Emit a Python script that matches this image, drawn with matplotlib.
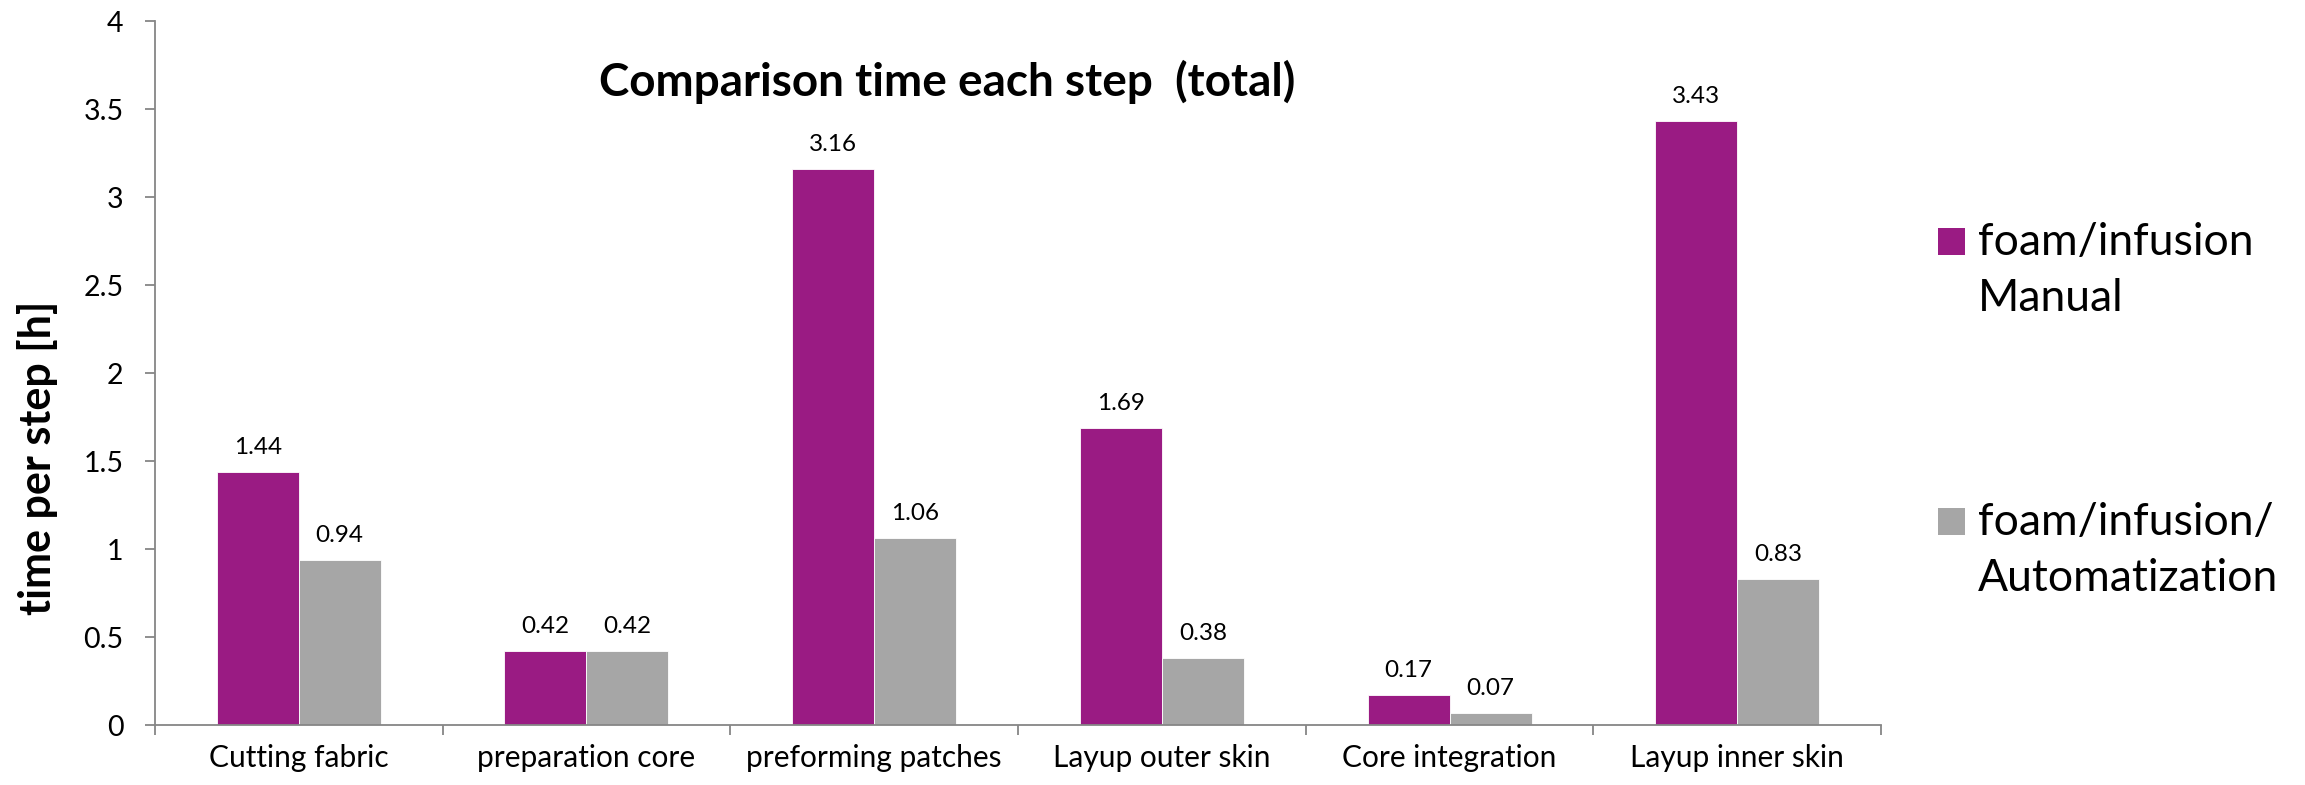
import matplotlib
matplotlib.use("Agg")
import matplotlib.pyplot as plt
from matplotlib.patches import Rectangle
import numpy as np

plt.rcParams['font.family'] = ['Lato', 'DejaVu Sans']

# time per production step, hours
steps = ["Cutting fabric", "preparation core", "preforming patches",
         "Layup outer skin", "Core integration", "Layup inner skin"]
manual = [1.44, 0.42, 3.16, 1.69, 0.17, 3.43]
automated = [0.94, 0.42, 1.06, 0.38, 0.07, 0.83]
series_names = ["foam/infusion\nManual", "foam/infusion/\nAutomatization"]
colors = ["#9A1B83", "#A6A6A6"]

axis_grey = "#868686"

fig = plt.figure(figsize=(23.05, 7.85), dpi=100)
ax = fig.add_axes([0.0672, 0.0764, 0.7489, 0.8968])

x = np.arange(len(steps))
w = 0.285
bars_m = ax.bar(x - w / 2, manual, w, color=colors[0], edgecolor="white", linewidth=0.6)
bars_a = ax.bar(x + w / 2, automated, w, color=colors[1], edgecolor="white", linewidth=0.6)

for bars, vals in ((bars_m, manual), (bars_a, automated)):
    for b, v in zip(bars, vals):
        ax.annotate(f"{v:.2f}", (b.get_x() + b.get_width() / 2, v),
                    xytext=(0, 13), textcoords="offset points",
                    ha="center", va="baseline", fontsize=17.5)

ax.set_xlim(-0.5, len(steps) - 0.5)
ax.set_ylim(0, 4)
ax.set_yticks(np.arange(0, 4.01, 0.5))
ax.set_yticklabels(["0", "0.5", "1", "1.5", "2", "2.5", "3", "3.5", "4"])

# boundary ticks between categories, names centred as minor ticks
ax.set_xticks(np.arange(-0.5, len(steps), 1.0))
ax.set_xticklabels([])
ax.set_xticks(x, minor=True)
ax.set_xticklabels(steps, minor=True, fontsize=21.5)
ax.tick_params(axis="x", which="major", length=7.5, width=1.3, color=axis_grey, direction="out")
ax.tick_params(axis="x", which="minor", length=0, pad=14)
ax.tick_params(axis="y", length=7.5, width=1.3, color=axis_grey, direction="out",
               labelsize=20.5, pad=15)

for side in ("top", "right"):
    ax.spines[side].set_visible(False)
for side in ("left", "bottom"):
    ax.spines[side].set_color(axis_grey)
    ax.spines[side].set_linewidth(1.3)

ax.set_ylabel("time per step [h]", fontsize=31, fontweight="bold", va="center")
ax.yaxis.set_label_coords(-0.0678, 0.379)

ax.text(0.459, 0.8935, "Comparison time each step  (total)", transform=ax.transAxes,
        ha="center", va="baseline", fontsize=33, fontweight="bold")

# legend drawn by hand so the swatch sits on the first text line
W, H = 2305, 785
swatch_tops = [228, 508]
for name, col, top in zip(series_names, colors, swatch_tops):
    fig.add_artist(Rectangle((1938 / W, 1 - (top + 27) / H), 27 / W, 27 / H,
                             transform=fig.transFigure, facecolor=col, edgecolor="none"))
    for i, line in enumerate(name.split("\n")):
        fig.text(1978 / W, 1 - (top + 27 + i * 56) / H, line,
                 ha="left", va="baseline", fontsize=32)

fig.savefig("out.png", dpi=100)
